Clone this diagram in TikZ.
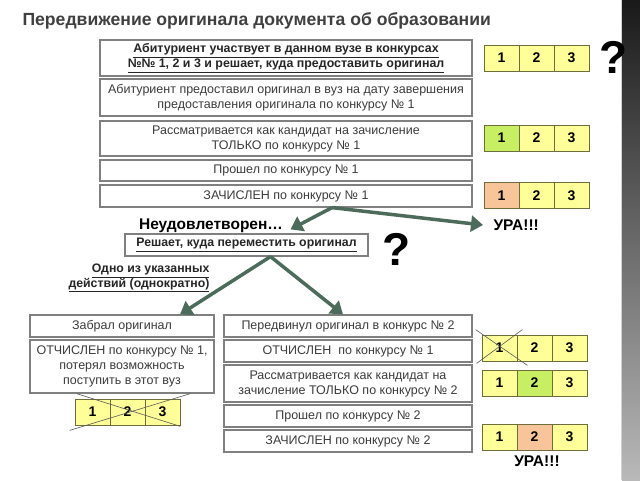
\documentclass[tikz,border=0pt]{standalone}
\usepackage{fontspec}
\setmainfont{Liberation Sans}
\usetikzlibrary{arrows.meta,calc}
\definecolor{boxgray}{HTML}{808080}
\definecolor{txtgray}{HTML}{3C3C3C}
\definecolor{titlegray}{HTML}{404040}
\definecolor{cellline}{HTML}{6E6E3C}
\definecolor{celly}{HTML}{FFFF99}
\definecolor{cellg}{HTML}{C8EE64}
\definecolor{cello}{HTML}{F8C49A}
\definecolor{arrgreen}{HTML}{4D6B5A}

\begin{document}
\begin{tikzpicture}[x=1pt,y=-1pt,
    box/.style={draw=boxgray, line width=1.2pt, fill=white, text=txtgray, align=center,
      inner sep=1pt, font=\fontsize{12.5}{15}\selectfont},
    cell/.style={draw=cellline, line width=0.8pt, fill=celly, minimum width=35pt,
      minimum height=26pt, inner sep=0pt, font=\fontsize{14}{14}\selectfont\bfseries},
    move/.style={draw=arrgreen, line width=3.5pt, -{Triangle[length=12pt,width=16pt]}},
    cross/.style={draw=gray!70!black, line width=0.6pt},
    bold/.style={font=\fontsize{15.5}{17}\selectfont\bfseries},
    query/.style={font=\fontsize{46}{46}\selectfont\bfseries}]
    \useasboundingbox (0,0) rectangle (640,480);
    \fill[white] (0,0) rectangle (640,480);
    \shade[top color=black!90, bottom color=gray!55] (622,0) rectangle (640,480);
    \draw[gray!35, line width=0.8pt] (621,0) -- (621,480);

    \node[anchor=west, text=titlegray, font=\fontsize{17.6}{20}\selectfont\bfseries] (title) at (19,21) {Передвижение оригинала документа об образовании};

    % upper column
    \node[box, minimum width=372pt, minimum height=36pt, text=black!85, font=\fontsize{12.4}{15}\selectfont\bfseries] (uchast) at (286,58) {\underline{Абитуриент участвует в данном вузе в конкурсах}\\\underline{№№ 1, 2 и 3 и решает, куда предоставить оригинал}};
    \node[box, minimum width=372pt, minimum height=37pt] (predost) at (286,97.5) {Абитуриент предоставил оригинал в вуз на дату завершения\\предоставления оригинала по конкурсу № 1};
    \node[box, minimum width=372pt, minimum height=35pt] (rassm1) at (286,138.5) {Рассматривается как кандидат на зачисление\\ТОЛЬКО по конкурсу № 1};
    \node[box, minimum width=372pt, minimum height=21pt] (proshel1) at (286,170.5) {Прошел по конкурсу № 1};
    \node[box, minimum width=372pt, minimum height=22pt] (zach1) at (286,196) {ЗАЧИСЛЕН по конкурсу № 1};

    \node[cell] (T1a) at (501.5,58) {1};
    \node[cell] (T1b) at (536.5,58) {2};
    \node[cell] (T1c) at (571.5,58) {3};
    \node[cell, fill=cellg] (T2a) at (501.5,138) {1};
    \node[cell] (T2b) at (536.5,138) {2};
    \node[cell] (T2c) at (571.5,138) {3};
    \node[cell, fill=cello] (T3a) at (501.5,195.5) {1};
    \node[cell] (T3b) at (536.5,195.5) {2};
    \node[cell] (T3c) at (571.5,195.5) {3};
    \node[query] (q1) at (614,57) {?};

    \node[bold] (neudov) at (211,226) {Неудовлетворен…};
    \node[bold, anchor=west] (ura1) at (490,225) {УРА!!!};
    \node[box, minimum width=243pt, minimum height=22pt, text=black!85, font=\fontsize{12.3}{14}\selectfont\bfseries] (reshaet) at (246.5,245) {\underline{Решает, куда переместить оригинал}};
    \node[query] (q2) at (397,249) {?};
    \node[anchor=east, align=right, text=black!85, font=\fontsize{12.3}{14.5}\selectfont\bfseries] (odno) at (213,278) {\underline{Одно из указанных}\\\underline{действий (однократно)}};

    % left branch
    \node[box, minimum width=184pt, minimum height=22pt] (zabral) at (122,326) {Забрал оригинал};
    \node[box, minimum width=184pt, minimum height=53pt] (otchisl) at (122,366.5) {ОТЧИСЛЕН по конкурсу № 1,\\потерял возможность\\поступить в этот вуз};
    \node[cell] (T4a) at (92.5,412) {1};
    \node[cell] (T4b) at (127.5,412) {2};
    \node[cell] (T4c) at (162.5,412) {3};

    % right branch
    \node[box, minimum width=248pt, minimum height=22pt] (peredv) at (348,326) {Передвинул оригинал в конкурс № 2};
    \node[box, minimum width=248pt, minimum height=22pt] (otchisl1) at (348,351) {ОТЧИСЛЕН\ \ по конкурсу № 1};
    \node[box, minimum width=248pt, minimum height=37pt] (rassm2) at (348,383.5) {Рассматривается как кандидат на\\зачисление ТОЛЬКО по конкурсу № 2};
    \node[box, minimum width=248pt, minimum height=22pt] (proshel2) at (348,416) {Прошел по конкурсу № 2};
    \node[box, minimum width=248pt, minimum height=22pt] (zach2) at (348,441) {ЗАЧИСЛЕН по конкурсу № 2};

    \node[cell] (T5a) at (499.5,348) {1};
    \node[cell] (T5b) at (534.5,348) {2};
    \node[cell] (T5c) at (569.5,348) {3};
    \node[cell] (T6a) at (499.5,383) {1};
    \node[cell, fill=cellg] (T6b) at (534.5,383) {2};
    \node[cell] (T6c) at (569.5,383) {3};
    \node[cell] (T7a) at (499.5,437) {1};
    \node[cell, fill=cello] (T7b) at (534.5,437) {2};
    \node[cell] (T7c) at (569.5,437) {3};
    \node[bold] (ura2) at (537,461) {УРА!!!};

    % crossed out
    \draw[cross] ($(T4a.north west)+(2,-5)$) -- ($(T4c.south east)+(0,1)$);
    \draw[cross] ($(T4a.south west)+(-5,5)$) -- ($(T4c.north east)+(10,-5)$);
    \draw[cross] ($(T5a.north west)+(-6,-5)$) -- ($(T5a.south east)+(10,4)$);
    \draw[cross] ($(T5a.south west)+(-5,2)$) -- ($(T5a.north east)+(5,-5)$);

    \draw[move] ([xshift=46pt]zach1.south) -- ([xshift=44pt,yshift=4pt]reshaet.north);
    \draw[move] ([xshift=46pt]zach1.south) -- ([xshift=-7pt]ura1.west);
    \draw[move] ([xshift=24pt]reshaet.south) -- ([xshift=58pt]zabral.north);
    \draw[move] ([xshift=24pt]reshaet.south) -- ([xshift=-5pt]peredv.north);
\end{tikzpicture}
\end{document}
